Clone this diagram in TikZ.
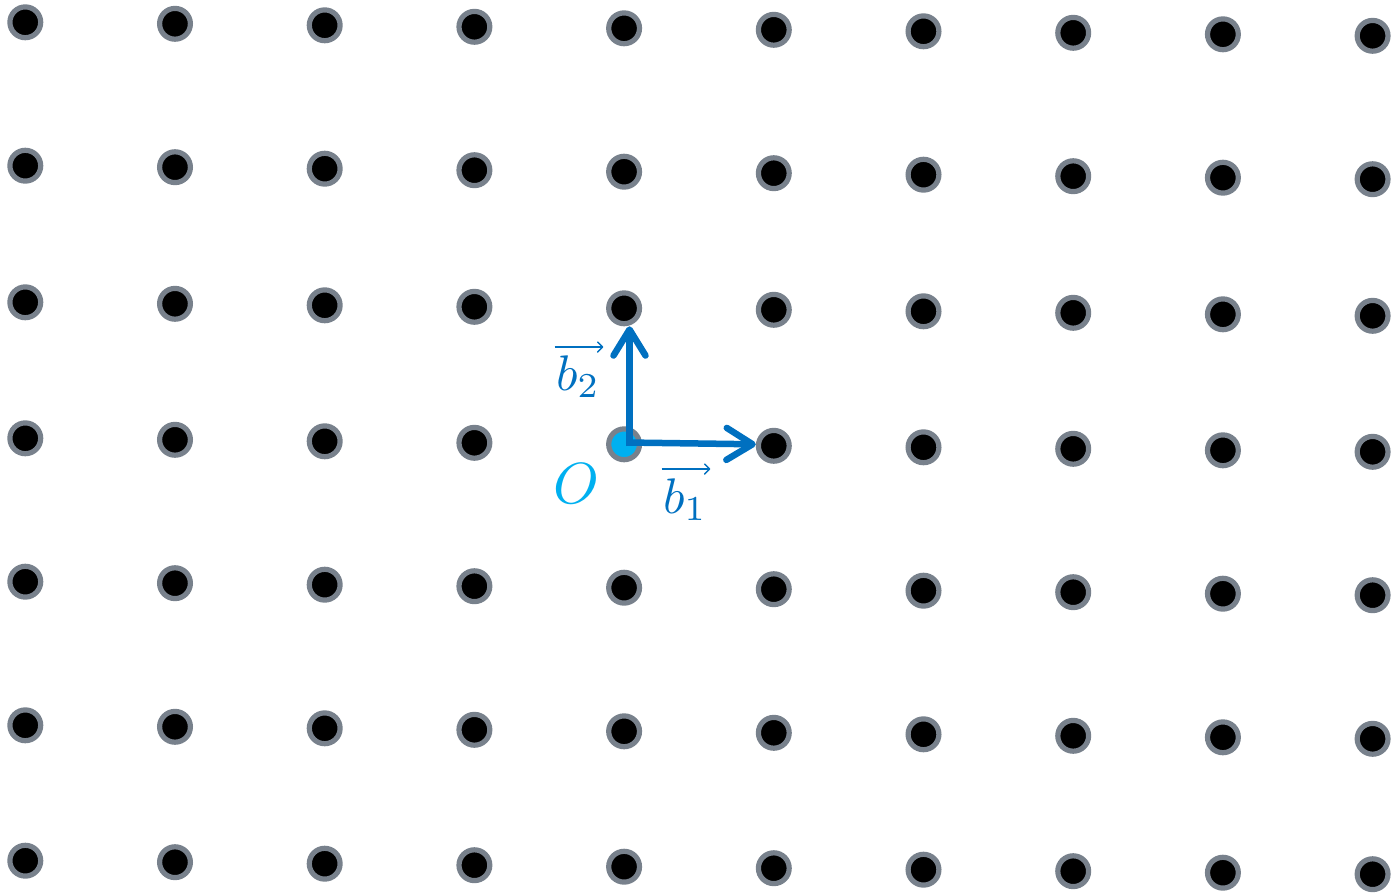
\documentclass[tikz,border=0pt]{standalone}
\usetikzlibrary{arrows.meta,calc}
\definecolor{ringgray}{RGB}{120,129,140}
\definecolor{vecblue}{RGB}{0,112,192}
\definecolor{origincyan}{RGB}{0,176,240}
\tikzset{
  dot/.style={circle, draw=ringgray, line width=5.2pt, minimum size=30.8pt, inner sep=0pt},
  vec/.style={draw=vecblue, line width=6.5pt, -{Straight Barb[round,length=26pt,width=32pt]}},
  overarr/.style={draw=vecblue, line width=1.4pt, -{Straight Barb[round,length=5pt,width=10pt]}},
  veclabel/.style={text=vecblue, inner sep=0pt},
  olabel/.style={text=origincyan, inner sep=0pt},
}
\begin{document}
\begin{tikzpicture}[x=1pt,y=-1pt]
\useasboundingbox (0,0) rectangle (1393,894);
\foreach \r/\yy in {0/22.3,1/165.7,2/302.3,3/438.3,4/581.7,5/725.3,6/860.7}{
  \foreach \c in {0,...,9}{
    \pgfmathtruncatemacro\isO{and(\c==4,\r==3)}
    \ifnum\isO=1 \def\dotfill{origincyan}\else\def\dotfill{black}\fi
    \node[dot, fill=\dotfill] (d-\c-\r) at ({25.3+149.7*\c},{\yy+1.5*\c}) {};
  }
}
\coordinate (s1) at (626.5,442.5);
\coordinate (s2) at (629.5,446);
\draw[vec] (s2) -- (s2 |- d-4-2.south);
\draw[vec] (s1) -- ([yshift=1.5pt]d-5-3.west);
\node[olabel, anchor=base] (lO) at (576,503) {\scalebox{5.8}{$O$}};
\node[veclabel, anchor=base west] (lb2) at (556,390) {\scalebox{5.0}{$b_2$}};
\node[veclabel, anchor=base west] (lb1) at (663,513) {\scalebox{5.0}{$b_1$}};
\draw[overarr] ([xshift=-1.5pt,yshift=8pt]lb2.north west) -- ([xshift=3pt,yshift=8pt]lb2.north east);
\draw[overarr] ([xshift=-1.5pt,yshift=9pt]lb1.north west) -- ([xshift=3pt,yshift=9pt]lb1.north east);
\end{tikzpicture}
\end{document}
